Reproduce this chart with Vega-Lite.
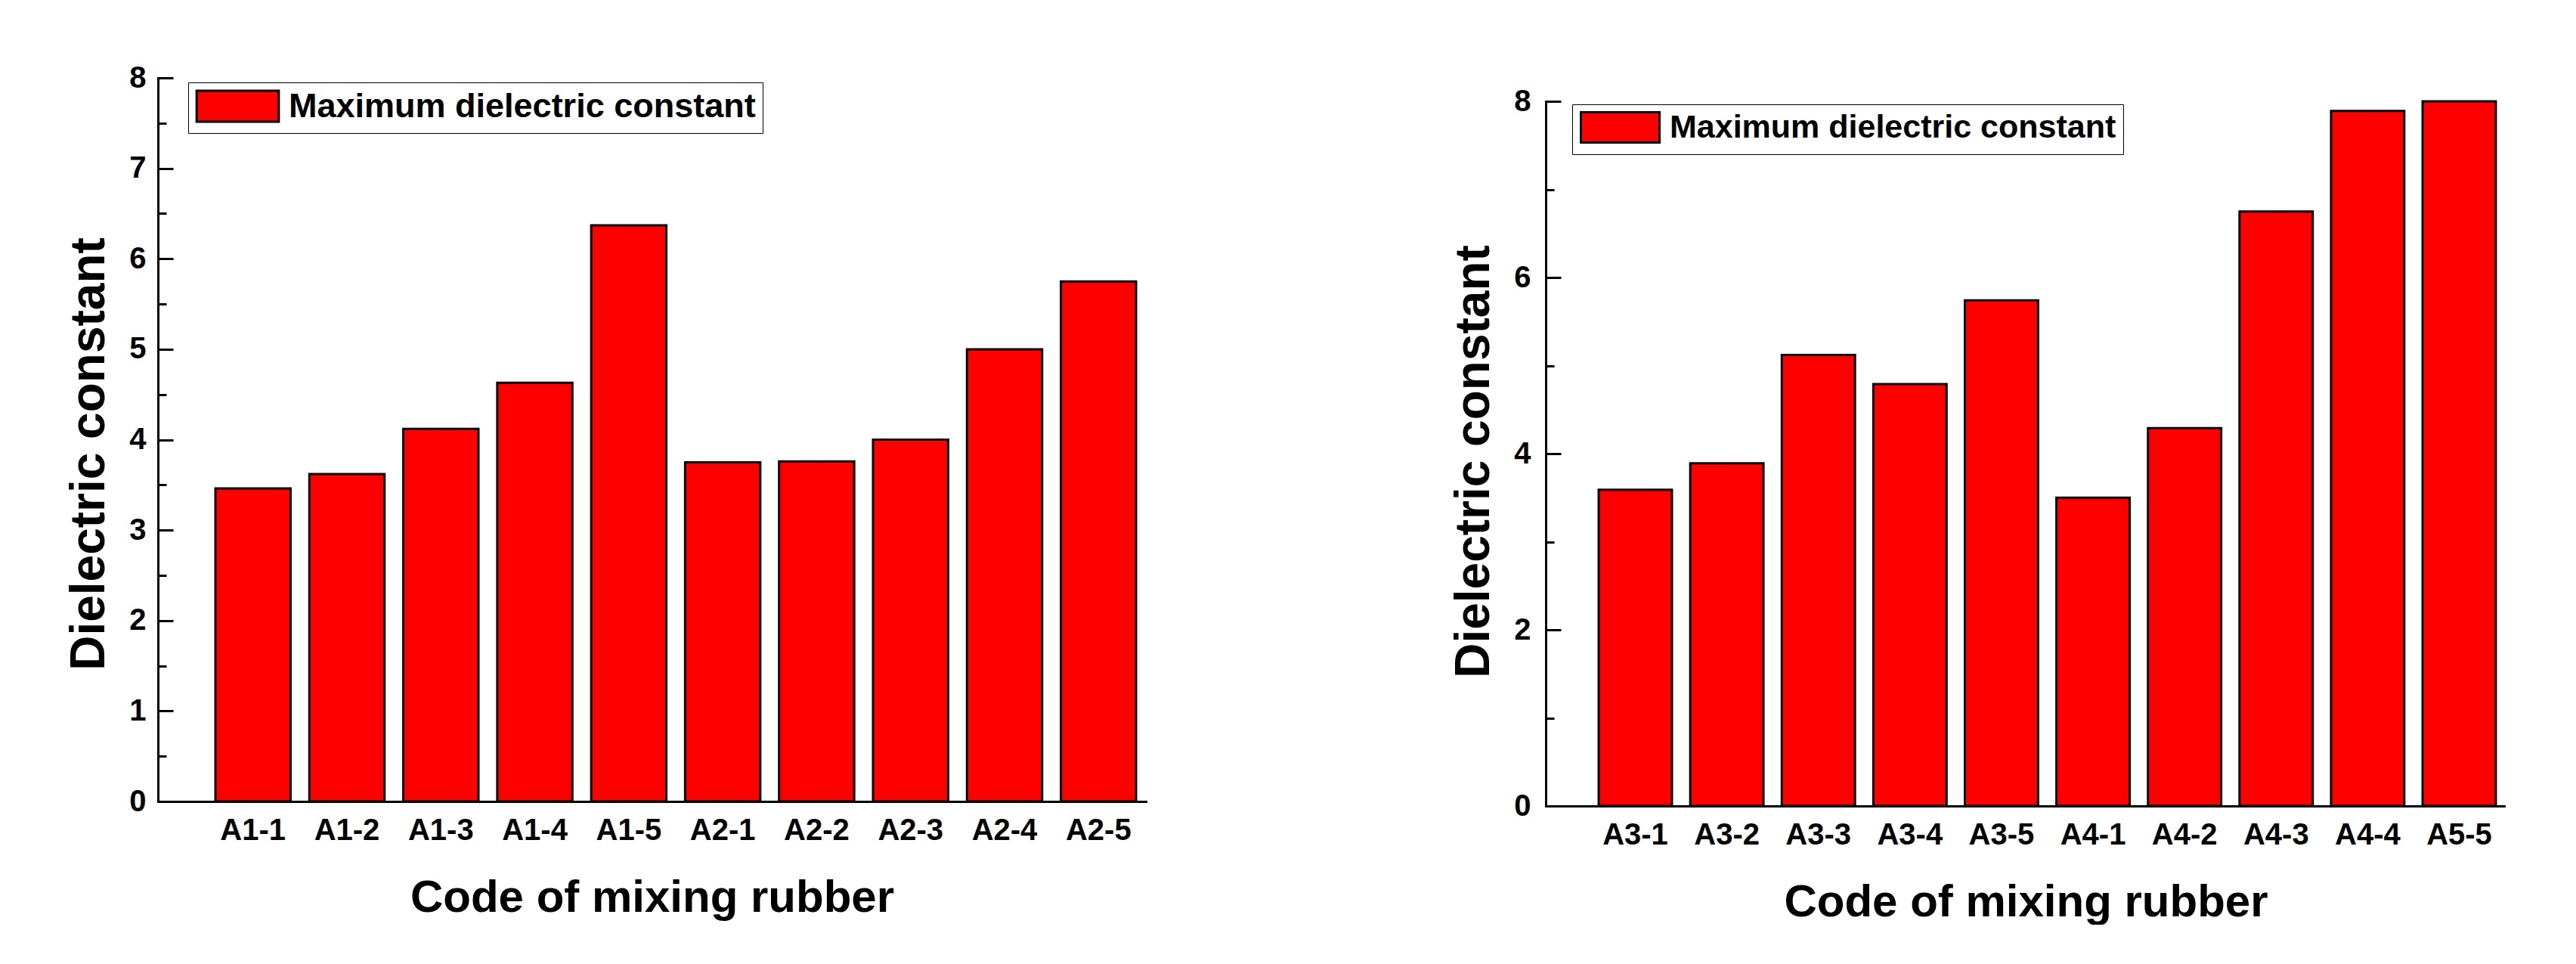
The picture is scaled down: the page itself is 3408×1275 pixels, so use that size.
{
  "$schema": "https://vega.github.io/schema/vega-lite/v6.json",
  "background": "white",
  "padding": {"left": 86, "top": 83, "right": 0, "bottom": 0},
  "spacing": 402,
  "config": {
    "view": {"stroke": null},
    "font": "Liberation Sans",
    "axis": {"labelFont": "Liberation Sans", "titleFont": "Liberation Sans", "labelFontWeight": "bold", "titleFontWeight": "bold", "labelColor": "black", "titleColor": "black", "domainColor": "black", "tickColor": "black", "domainWidth": 3, "tickWidth": 3, "grid": false, "domainCap": "square"},
    "legend": {"labelFont": "Liberation Sans"}
  },
  "resolve": {"scale": {"color": "independent"}, "legend": {"color": "independent"}},
  "hconcat": [
    {
      "width": 1307,
      "height": 957,
      "data": {"values": [
        {"code": "A1-1", "value": 3.46},
        {"code": "A1-2", "value": 3.62},
        {"code": "A1-3", "value": 4.12},
        {"code": "A1-4", "value": 4.63},
        {"code": "A1-5", "value": 6.37},
        {"code": "A2-1", "value": 3.75},
        {"code": "A2-2", "value": 3.76},
        {"code": "A2-3", "value": 4.0},
        {"code": "A2-4", "value": 5.0},
        {"code": "A2-5", "value": 5.75}
      ]},
      "layer": [
        {
          "mark": {"type": "bar", "stroke": "black", "strokeWidth": 3, "clip": true},
          "encoding": {
            "x": {"field": "code", "type": "nominal", "sort": null,
                  "scale": {"paddingInner": 0.2, "paddingOuter": 0.358, "align": 0.854},
                  "axis": {"title": "Code of mixing rubber", "titleFontSize": 60, "titlePadding": 40, "labelFontSize": 40, "labelAngle": 0, "labelPadding": 18, "ticks": false}},
            "y": {"field": "value", "type": "quantitative",
                  "scale": {"domain": [0, 8], "nice": false},
                  "axis": {"title": "Dielectric constant", "titleFontSize": 64, "titlePadding": 20, "titleY": 497, "labelFontSize": 40, "values": [0, 1, 2, 3, 4, 5, 6, 7, 8], "tickSize": -20, "labelPadding": 36, "orient": "left"}},
            "color": {"datum": "Maximum dielectric constant", "type": "nominal",
                      "scale": {"range": ["#ff0000"]},
                      "legend": {"title": null, "orient": "none", "legendX": 40, "legendY": 6,
                                 "symbolType": "M-2.65,-1H2.65V1H-2.65Z", "symbolSize": 1681,
                                 "symbolStrokeColor": "black", "symbolStrokeWidth": 3, "symbolOffset": 34,
                                 "labelFontSize": 45, "labelFontWeight": "bold", "labelColor": "black", "labelOffset": 45,
                                 "labelLimit": 2000,
                                 "strokeColor": "black", "fillColor": "white", "padding": 9}}
          }
        },
        {
          "mark": {"type": "point", "opacity": 0},
          "encoding": {
            "y": {"field": "value", "type": "quantitative",
                  "scale": {"domain": [0, 8], "nice": false},
                  "axis": {"title": null, "labels": false, "domain": false, "values": [0.5, 1.5, 2.5, 3.5, 4.5, 5.5, 6.5, 7.5], "tickSize": -11, "orient": "left"}}
          }
        }
      ],
      "resolve": {"axis": {"y": "independent"}}
    },
    {
      "width": 1270,
      "height": 963,
      "data": {"values": [
        {"code": "A3-1", "value": 3.59},
        {"code": "A3-2", "value": 3.89},
        {"code": "A3-3", "value": 5.12},
        {"code": "A3-4", "value": 4.79},
        {"code": "A3-5", "value": 5.74},
        {"code": "A4-1", "value": 3.5},
        {"code": "A4-2", "value": 4.29},
        {"code": "A4-3", "value": 6.75},
        {"code": "A4-4", "value": 7.89},
        {"code": "A5-5", "value": 8.0}
      ]},
      "layer": [
        {
          "mark": {"type": "bar", "stroke": "black", "strokeWidth": 3, "clip": true},
          "encoding": {
            "x": {"field": "code", "type": "nominal", "sort": null,
                  "scale": {"paddingInner": 0.2, "paddingOuter": 0.343, "align": 0.843},
                  "axis": {"title": "Code of mixing rubber", "titleFontSize": 60, "titlePadding": 40, "labelFontSize": 40, "labelAngle": 0, "labelPadding": 18, "ticks": false}},
            "y": {"field": "value", "type": "quantitative",
                  "scale": {"domain": [0, 8], "nice": false, "range": [963, 31]},
                  "axis": {"title": "Dielectric constant", "titleFontSize": 64, "titlePadding": 20, "titleY": 507, "labelFontSize": 40, "values": [0, 2, 4, 6, 8], "tickSize": -20, "labelPadding": 40, "orient": "left"}},
            "color": {"datum": "Maximum dielectric constant", "type": "nominal",
                      "scale": {"range": ["#ff0000"]},
                      "legend": {"title": null, "orient": "none", "legendX": 35, "legendY": 35,
                                 "symbolType": "M-2.6,-1H2.6V1H-2.6Z", "symbolSize": 1600,
                                 "symbolStrokeColor": "black", "symbolStrokeWidth": 3, "symbolOffset": 33,
                                 "labelFontSize": 43, "labelFontWeight": "bold", "labelColor": "black", "labelOffset": 44,
                                 "labelLimit": 2000,
                                 "strokeColor": "black", "fillColor": "white", "padding": 9}}
          }
        },
        {
          "mark": {"type": "point", "opacity": 0},
          "encoding": {
            "y": {"field": "value", "type": "quantitative",
                  "scale": {"domain": [0, 8], "nice": false, "range": [963, 31]},
                  "axis": {"title": null, "labels": false, "domain": false, "values": [1, 3, 5, 7], "tickSize": -11, "orient": "left"}}
          }
        }
      ],
      "resolve": {"axis": {"y": "independent"}}
    }
  ]
}
